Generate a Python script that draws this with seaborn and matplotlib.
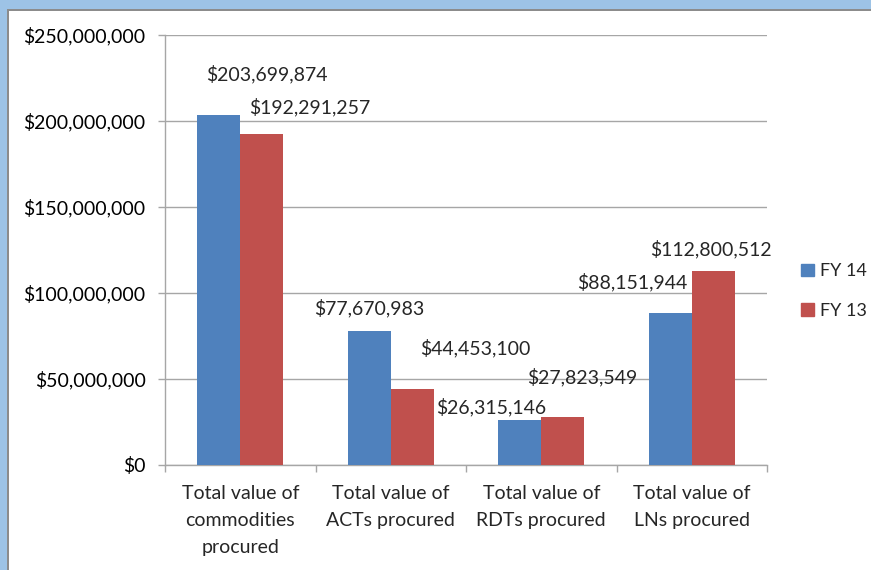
import pandas as pd
import matplotlib.pyplot as plt
from matplotlib.patches import Rectangle, Patch
from matplotlib.ticker import FuncFormatter, FixedLocator
import seaborn as sns

# data
categories = ["Total value of\ncommodities\nprocured", "Total value of\nACTs procured",
              "Total value of\nRDTs procured", "Total value of\nLNs procured"]
years = ["FY 14", "FY 13"]
fy14 = [203699874, 77670983, 26315146, 88151944]
fy13 = [192291257, 44453100, 27823549, 112800512]
colors = ["#4F81BD", "#C0504D"]

# label offsets from bar top (pixels), labels were dragged around in the original
offsets_fy14 = [(48, 41), (0, 23), (-29, 13), (-38, 31)]
offsets_fy13 = [(48, 27), (63, 40), (20, 40), (-2, 22)]

df = pd.DataFrame({
    "Category": categories * 2,
    "Year": [years[0]] * 4 + [years[1]] * 4,
    "Value": fy14 + fy13,
})

sns.set_style("white")
plt.rcParams["font.family"] = ["Lato", "DejaVu Sans"]
plt.rcParams["font.size"] = 14

fig = plt.figure(figsize=(8.71, 5.70), dpi=100)
ax = fig.add_axes([165 / 871, 105 / 570, 602 / 871, 430 / 570])

sns.barplot(data=df, x="Category", y="Value", hue="Year", palette=colors,
            width=0.57, gap=0, saturation=1, ax=ax, legend=False, zorder=3,
            linewidth=0)

ax.set_ylim(0, 250e6)
ax.set_xlim(-0.5, 3.5)
ax.set_yticks(range(0, 250000001, 50000000))
ax.yaxis.set_major_formatter(FuncFormatter(lambda v, p: "${:,.0f}".format(v)))
ax.yaxis.grid(True, color="#A6A6A6", lw=1, zorder=0)
ax.set_xlabel("")
ax.set_ylabel("")

grey = "#A6A6A6"
for s in ["top", "right"]:
    ax.spines[s].set_visible(False)
for s in ["left", "bottom"]:
    ax.spines[s].set_color(grey)
    ax.spines[s].set_linewidth(1)

ax.set_xticks(range(4))
ax.set_xticklabels(categories, linespacing=1.7, va="top")
ax.tick_params(axis="y", which="major", left=True, length=5, width=1, color=grey,
               pad=9, labelsize=14, labelcolor="#000000")
ax.tick_params(axis="x", which="major", bottom=False, pad=11, labelsize=14)
ax.xaxis.set_minor_locator(FixedLocator([-0.5, 0.5, 1.5, 2.5, 3.5]))
ax.tick_params(axis="x", which="minor", bottom=True, length=5, width=1, color=grey)

# data labels
for i in range(4):
    x14 = ax.patches[i].get_x() + ax.patches[i].get_width() / 2
    x13 = ax.patches[i + 4].get_x() + ax.patches[i + 4].get_width() / 2
    ax.annotate("${:,}".format(fy14[i]), (x14, fy14[i]), xytext=offsets_fy14[i],
                textcoords="offset pixels", ha="center", va="center", fontsize=14)
    ax.annotate("${:,}".format(fy13[i]), (x13, fy13[i]), xytext=offsets_fy13[i],
                textcoords="offset pixels", ha="center", va="center", fontsize=14)

handles = [Patch(facecolor=c, edgecolor=c) for c in colors]
fig.legend(handles, years, loc="center left", bbox_to_anchor=(801 / 871, 1 - 291 / 570),
           frameon=False, fontsize=13, handlelength=0.7, handleheight=0.7,
           handletextpad=0.35, labelspacing=1.3, borderaxespad=0, borderpad=0)

# window frame from the screenshot
fig.patches.append(Rectangle((0, 1 - 9 / 570), 1, 9 / 570, transform=fig.transFigure,
                             facecolor="#9DC3E6", edgecolor="none"))
fig.patches.append(Rectangle((0, 0), 7 / 871, 1, transform=fig.transFigure,
                             facecolor="#9DC3E6", edgecolor="none"))
fig.patches.append(Rectangle((7 / 871, 0), 2 / 871, 1 - 9 / 570, transform=fig.transFigure,
                             facecolor="#8C8C8C", edgecolor="none"))
fig.patches.append(Rectangle((7 / 871, 1 - 11 / 570), 1, 2 / 570, transform=fig.transFigure,
                             facecolor="#8C8C8C", edgecolor="none"))

fig.savefig("out.png", dpi=100)
